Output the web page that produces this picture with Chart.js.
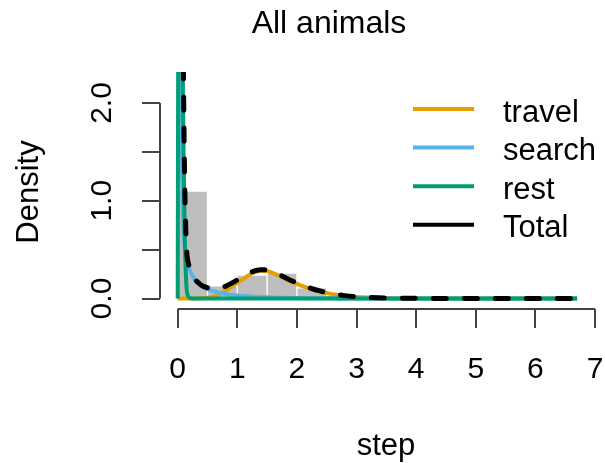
<!DOCTYPE html>
<html lang="en">
<head>
  <meta charset="UTF-8">
  <title>All animals</title>
  <script src="https://cdn.jsdelivr.net/npm/chart.js"></script>
  <style>
    body { margin: 0; background: #fff; }
    canvas { display: block; }
  </style>
</head>
<body>
  <canvas id="densityChart" width="605" height="463"></canvas>

  <script>
    const steps = [0, 0.01, 0.03, 0.05, 0.07, 0.08, 0.09, 0.095, 0.1, 0.12, 0.15, 0.18, 0.21, 0.25,
      0.3, 0.35, 0.4, 0.5, 0.6, 0.7, 0.8, 0.9, 1.0, 1.1, 1.2, 1.3, 1.4, 1.5, 1.6, 1.7, 1.8, 1.9,
      2.0, 2.2, 2.4, 2.6, 2.8, 3.0, 3.2, 3.5, 4.0, 4.5, 5.0, 6.0, 6.7];

    const travel = [0, 0, 0, 0, 0, 0, 0, 0, 0, 0, 0, 0, 0, 0,
      0.001, 0.002, 0.003, 0.008, 0.02, 0.045, 0.08, 0.12, 0.16, 0.2, 0.24, 0.27, 0.285, 0.28, 0.26, 0.235, 0.205, 0.175,
      0.15, 0.105, 0.07, 0.045, 0.028, 0.017, 0.01, 0.004, 0.001, 0, 0, 0, 0];

    const search = [null, 6.0, 3.2, 2.0, 1.3, 1.0, 0.8, 0.72, 0.66, 0.52, 0.41, 0.33, 0.28, 0.23,
      0.18, 0.15, 0.125, 0.095, 0.075, 0.058, 0.046, 0.037, 0.03, 0.025, 0.021, 0.017, 0.014, 0.012, 0.01, 0.008, 0.007, 0.006,
      0.005, 0.003, 0.002, 0.002, 0.001, 0.001, 0, 0, 0, 0, 0, 0, 0];

    const rest = [0, 3.0, 5.0, 4.5, 3.3, 2.6, 2.0, 1.7, 1.4, 0.6, 0.1, 0.02, 0.004, 0.001,
      0, 0, 0, 0, 0, 0, 0, 0, 0, 0, 0, 0, 0, 0, 0, 0, 0, 0,
      0, 0, 0, 0, 0, 0, 0, 0, 0, 0, 0, 0, 0];

    const total = [null, null, null, 6.5, 4.6, 3.6, 2.8, 2.4, 2.05, 1.1, 0.5, 0.36, 0.3, 0.25,
      0.19, 0.16, 0.135, 0.11, 0.1, 0.105, 0.125, 0.155, 0.19, 0.225, 0.26, 0.285, 0.295, 0.29, 0.27, 0.245, 0.215, 0.185,
      0.16, 0.112, 0.075, 0.048, 0.03, 0.018, 0.011, 0.005, 0.002, 0.001, 0, 0, 0];

    // histogram (bins of 0.5)
    const binMids = [0.25, 0.75, 1.25, 1.75, 2.25, 2.75, 3.25, 3.75];
    const binDensity = [1.1, 0.13, 0.24, 0.26, 0.11, 0.035, 0.01, 0.003];

    const xTicks = [0, 1, 2, 3, 4, 5, 6, 7];
    const yTicks = [0, 0.5, 1, 1.5, 2];
    const yLabels = ['0.0', '', '1.0', '', '2.0'];

    const legendNames = ['travel', 'search', 'rest', 'Total'];
    const legendColors = ['#E69F00', '#56B4E9', '#009E73', '#000000'];

    const FONT = '"Liberation Sans", Arial, sans-serif';
    const AXIS_COLOR = '#444';

    function pts(ys) {
      return steps.map((x, i) => ({ x: x, y: ys[i] }));
    }

    function curve(label, ys, color, order, extra) {
      return Object.assign({
        type: 'line',
        label: label,
        data: pts(ys),
        borderColor: color,
        borderWidth: 4,
        pointRadius: 0,
        cubicInterpolationMode: 'monotone',
        spanGaps: false,
        order: order,
      }, extra || {});
    }

    // R-style axes, labels, title and legend
    const rDecor = {
      id: 'rDecor',
      afterDraw(chart) {
        const c = chart.ctx;
        const xs = chart.scales.x, ys = chart.scales.y;
        const area = chart.chartArea;
        c.save();
        c.strokeStyle = AXIS_COLOR;
        c.lineWidth = 2;
        c.beginPath();
        c.moveTo(xs.getPixelForValue(xTicks[0]), area.bottom);
        c.lineTo(xs.getPixelForValue(xTicks[xTicks.length - 1]), area.bottom);
        c.moveTo(area.left, ys.getPixelForValue(yTicks[0]));
        c.lineTo(area.left, ys.getPixelForValue(yTicks[yTicks.length - 1]));
        c.stroke();

        c.fillStyle = '#000';
        c.textAlign = 'center';
        c.textBaseline = 'alphabetic';

        // y tick labels, rotated
        c.font = '30px ' + FONT;
        yTicks.forEach((v, i) => {
          if (!yLabels[i]) return;
          c.save();
          c.translate(111, ys.getPixelForValue(v));
          c.rotate(-Math.PI / 2);
          c.fillText(yLabels[i], 0, 0);
          c.restore();
        });

        // title and axis titles
        c.font = '32px ' + FONT;
        c.fillText('All animals', 329, 33);
        c.font = '31px ' + FONT;
        c.fillText('step', 386, 455);
        c.save();
        c.translate(38, 192);
        c.rotate(-Math.PI / 2);
        c.fillText('Density', 0, 0);
        c.restore();

        // legend
        c.textAlign = 'left';
        c.font = '31px ' + FONT;
        legendNames.forEach((name, i) => {
          const y = 109 + i * 38.6;
          c.strokeStyle = legendColors[i];
          c.lineWidth = 4;
          c.beginPath();
          c.moveTo(413, y);
          c.lineTo(474, y);
          c.stroke();
          c.fillText(name, 503, y + 12.5);
        });
        c.restore();
      }
    };

    const ctx = document.getElementById('densityChart').getContext('2d');
    const densityChart = new Chart(ctx, {
      type: 'line',
      data: {
        datasets: [
          curve('Total', total, '#000000', 1, { borderWidth: 5, borderDash: [13, 18], borderCapStyle: 'round' }),
          curve('rest', rest, legendColors[2], 2),
          curve('search', search, legendColors[1], 3),
          curve('travel', travel, legendColors[0], 4),
          {
            type: 'bar',
            label: 'hist',
            data: binMids.map((x, i) => ({ x: x, y: binDensity[i] })),
            backgroundColor: '#bebebe',
            borderColor: '#ffffff',
            borderWidth: 1,
            barPercentage: 1,
            categoryPercentage: 1,
            order: 5,
          },
        ],
      },
      options: {
        responsive: false,
        animation: false,
        devicePixelRatio: 1,
        layout: { padding: { top: 72, right: 5, left: 0, bottom: 0 } },
        plugins: {
          legend: { display: false },
          title: { display: false },
          tooltip: { enabled: false },
        },
        scales: {
          x: {
            type: 'linear',
            min: -0.297,
            max: 7.084,
            offset: false,
            afterBuildTicks: (s) => { s.ticks = xTicks.map(v => ({ value: v })); },
            afterFit: (s) => { s.height = 154; s.paddingLeft = 0; s.paddingRight = 0; },
            border: { display: false },
            grid: { offset: false, drawOnChartArea: false, drawTicks: true, tickLength: 19, color: AXIS_COLOR, lineWidth: 2 },
            ticks: {
              autoSkip: false,
              maxRotation: 0,
              padding: 24,
              color: '#000',
              font: { family: FONT, size: 30 },
            },
          },
          y: {
            type: 'linear',
            min: -0.107,
            max: 2.317,
            afterBuildTicks: (s) => { s.ticks = yTicks.map(v => ({ value: v })); },
            afterFit: (s) => { s.width = 160; s.paddingTop = 0; s.paddingBottom = 0; },
            border: { display: false },
            grid: { drawOnChartArea: false, drawTicks: true, tickLength: 18, color: AXIS_COLOR, lineWidth: 2 },
            ticks: { display: false },
          },
        },
      },
      plugins: [rDecor],
    });
  </script>
</body>
</html>
